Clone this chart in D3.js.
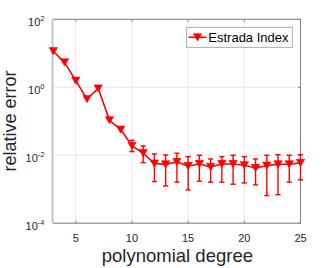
<!DOCTYPE html>
<html><head><meta charset="utf-8">
<script src="https://cdn.jsdelivr.net/npm/d3@7"></script>
<style>html,body{margin:0;padding:0;background:#fff;}svg{display:block;font-family:"Liberation Sans",Arial,sans-serif;}</style>
</head><body>
<script>
const degrees = [3,4,5,6,7,8,9,10,11,12,13,14,15,16,17,18,19,20,21,22,23,24,25];
const values = [11.5,5.4,1.56,0.45,0.92,0.107,0.057,0.019,0.0115,0.0057,0.00537,0.00635,0.00484,0.00554,0.00453,0.00554,0.00554,0.00508,0.00423,0.00494,0.00543,0.00543,0.00594];
const upper = [null,null,null,null,null,null,null,0.0276,0.0188,0.0109,0.0102,0.01146,0.0091,0.0100,0.00778,0.0091,0.0100,0.0091,0.00778,0.0100,0.01042,0.0100,0.01042];
const lower = [null,null,null,null,null,null,null,0.01277,0.00605,0.00168,0.00125,0.00161,0.00095,0.00172,0.00161,0.00161,0.0014,0.00153,0.00134,0.00065,0.00069,0.00161,0.00188];
const xTicks = [5,10,15,20,25];
const yTickExps = [-4,-2,0,2];
const seriesName = "Estrada Index";
const xLabel = "polynomial degree";
const yLabel = "relative error";

const W=332,H=268;
const L=53.3,R=300.5,T=19.3,B=223.2;
const svg=d3.select("body").append("svg").attr("width",W).attr("height",H);
const x=d3.scaleLinear().domain([3,25]).range([L,R]);
const y=d3.scaleLog().domain([1e-4,1e2]).range([B,T]);
const red="#ff0000", txt="#262626";

// grid
const g=svg.append("g");
g.selectAll(".gx").data(xTicks).enter().append("line")
 .attr("x1",d=>x(d)).attr("x2",d=>x(d)).attr("y1",T).attr("y2",B)
 .attr("stroke","#e8e8e8").attr("stroke-width",1);
g.selectAll(".gy").data(yTickExps).enter().append("line")
 .attr("x1",L).attr("x2",R).attr("y1",d=>y(Math.pow(10,d))).attr("y2",d=>y(Math.pow(10,d)))
 .attr("stroke","#e8e8e8").attr("stroke-width",1);

// axes box
const ax="#828282";
svg.append("line").attr("x1",L).attr("x2",R).attr("y1",T).attr("y2",T).attr("stroke",ax);
svg.append("line").attr("x1",L).attr("x2",R).attr("y1",B).attr("y2",B).attr("stroke",ax);
svg.append("line").attr("x1",R).attr("x2",R).attr("y1",T).attr("y2",B).attr("stroke",ax);
svg.append("line").attr("x1",L-0.8).attr("x2",L-0.8).attr("y1",T).attr("y2",B).attr("stroke","#c4c4c4").attr("stroke-width",2);
// ticks
xTicks.forEach(d=>{
  svg.append("line").attr("x1",x(d)).attr("x2",x(d)).attr("y1",B).attr("y2",B-2.5).attr("stroke",ax);
  svg.append("line").attr("x1",x(d)).attr("x2",x(d)).attr("y1",T).attr("y2",T+2.5).attr("stroke",ax);
});
yTickExps.forEach(e=>{
  const yy=y(Math.pow(10,e));
  svg.append("line").attr("x1",R).attr("x2",R-2.5).attr("y1",yy).attr("y2",yy).attr("stroke",ax);
});

// x tick labels
svg.selectAll(".xt").data(xTicks).enter().append("text")
 .attr("x",d=>x(d)).attr("y",241.5).attr("text-anchor","middle")
 .attr("font-size",11).attr("fill",txt).text(d=>d);
// y tick labels
yTickExps.forEach(e=>{
  const yy=y(Math.pow(10,e));
  const t=svg.append("text").attr("x",44.5).attr("y",yy+6.8).attr("text-anchor","end")
    .attr("font-size",11).attr("fill",txt);
  t.append("tspan").text("10");
  t.append("tspan").attr("dy",-5).attr("font-size",7.5).text(e<0?"-"+(-e):String(e));
});

// axis labels
svg.append("text").attr("x",(L+R)/2+0.5).attr("y",262).attr("text-anchor","middle")
 .attr("font-size",18.5).attr("fill",txt).text(xLabel);
svg.append("text").attr("transform","translate(16,121) rotate(-90)").attr("text-anchor","middle")
 .attr("font-size",18).attr("fill",txt).text(yLabel);

// data
const data=degrees.map((d,i)=>({d,v:values[i],u:upper[i],l:lower[i]}));
svg.append("path").datum(data)
 .attr("d",d3.line().x(p=>x(p.d)).y(p=>y(p.v)))
 .attr("fill","none").attr("stroke",red).attr("stroke-width",1.6);
const eb=data.filter(p=>p.u!=null);
const eg=svg.append("g").attr("stroke",red).attr("stroke-width",1.4);
eb.forEach(p=>{
  eg.append("line").attr("x1",x(p.d)).attr("x2",x(p.d)).attr("y1",y(p.u)).attr("y2",y(p.l));
  eg.append("line").attr("x1",x(p.d)-2.6).attr("x2",x(p.d)+2.6).attr("y1",y(p.u)).attr("y2",y(p.u));
  eg.append("line").attr("x1",x(p.d)-2.6).attr("x2",x(p.d)+2.6).attr("y1",y(p.l)).attr("y2",y(p.l));
});
function tri(cx,cy){const w=4.2,h=3.6;return `M${cx-w},${cy-h}L${cx+w},${cy-h}L${cx},${cy+h}Z`;}
svg.selectAll(".m").data(data).enter().append("path")
 .attr("d",p=>tri(x(p.d),y(p.v))).attr("fill",red).attr("stroke",red).attr("stroke-width",0.6);

// legend
svg.append("rect").attr("x",186.7).attr("y",27.3).attr("width",105.6).attr("height",20)
 .attr("fill","#fff").attr("stroke","#9a9a9a").attr("stroke-width",0.8);
svg.append("line").attr("x1",188.5).attr("x2",206.5).attr("y1",37.3).attr("y2",37.3).attr("stroke",red).attr("stroke-width",1.6);
svg.append("path").attr("d",tri(197.5,37.3)).attr("fill",red).attr("stroke",red).attr("stroke-width",0.6);
svg.append("text").attr("x",208.3).attr("y",42.3).attr("font-size",13).attr("fill","#000").text(seriesName);
</script>
</body></html>
